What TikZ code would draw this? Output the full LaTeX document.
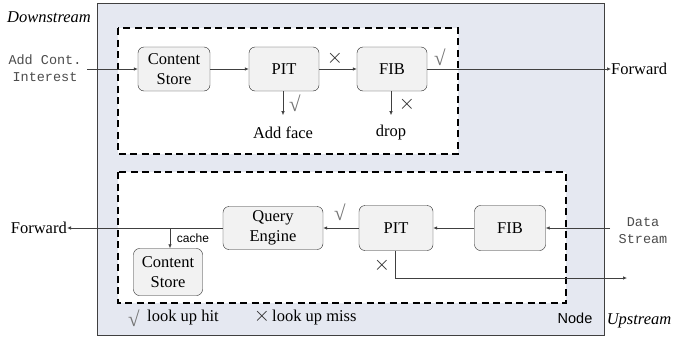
\documentclass[tikz,border=0pt]{standalone}
\usepackage{fontspec}
\setmainfont{Liberation Serif}
\setsansfont{Liberation Sans}
\setmonofont{Liberation Mono}
\usetikzlibrary{arrows.meta}
\definecolor{nodebg}{HTML}{E5E8F1}
\definecolor{boxbg}{HTML}{F2F2F2}
\definecolor{linec}{HTML}{404040}
\begin{document}
\begin{tikzpicture}[x=1pt,y=-1pt,
  box/.style={draw=black!85,fill=boxbg,rounded corners=6pt,align=center,inner sep=0pt,
    font=\fontsize{16.5}{20}\selectfont},
  lbl/.style={inner sep=0pt,font=\fontsize{16.5}{20}\selectfont},
  mono/.style={inner sep=0pt,align=center,text=black!70,font=\fontsize{13.5}{17}\selectfont\ttfamily},
  conn/.style={draw=linec,line width=0.7pt,-{Latex[length=4pt,width=3.5pt]}},
  dashbox/.style={draw=black,line width=1.6pt,dash pattern=on 7pt off 4.5pt,fill=white},
  ok/.style={inner sep=0pt,text=black!55,font=\fontsize{21}{20}\selectfont},
  no/.style={inner sep=0pt,text=black!85,font=\fontsize{22}{20}\selectfont}]
\useasboundingbox (0,0) rectangle (674,343);
% outer node area
\draw[draw=black!75,fill=nodebg,line width=0.8pt] (97,3) rectangle (604,335);
\draw[dashbox] (118,28) rectangle (458,154);
\draw[dashbox] (118,172) rectangle (566,303);

% top row
\node[box,minimum width=72pt,minimum height=44pt] (cs1) at (174,69) {Content\\Store};
\node[box,minimum width=70pt,minimum height=44pt] (pit1) at (284,69) {PIT};
\node[box,minimum width=70pt,minimum height=44pt] (fib1) at (392,69) {FIB};
\node[mono] (in1) at (45,68) {Add Cont.\\Interest};
\coordinate (in1e) at (87,69);
\node[lbl,anchor=west] (fwd1) at (611,69) {Forward};
\node[lbl] (addface) at (283,133) {Add face};
\node[lbl] (drop) at (391,133) {drop};
\coordinate (pit1d) at (pit1.south -| addface.north);
\coordinate (fib1d) at (fib1.south -| drop.north);
\draw[conn] (in1e) -- (cs1.west);
\draw[conn] (cs1.east) -- (pit1.west);
\draw[conn] (pit1.east) -- (fib1.west);
\draw[conn] (fib1.east) -- (fwd1.west);
\draw[conn] (pit1d) -- ++(0,24);
\draw[conn] (fib1d) -- ++(0,24);
\node[ok] (c1) at (295,103) {√};
\node[no] (x1) at (407,104) {$\times$};
\node[no] (x2) at (335,58) {$\times$};
\node[ok] (c2) at (440,57) {√};

% bottom row
\node[box,minimum width=100pt,minimum height=43pt] (qe) at (273,228) {Query\\Engine};
\node[box,minimum width=69pt,minimum height=47pt] (cs2) at (168,272) {Content\\Store};
\node[box,minimum width=74pt,minimum height=45pt] (pit2) at (396,228) {PIT};
\node[box,minimum width=71pt,minimum height=45pt] (fib2) at (510,228) {FIB};
\node[mono] (ds) at (643,231) {Data\\Stream};
\coordinate (dsw) at (610,228);
\node[lbl,anchor=east] (fwd2) at (67,228) {Forward};
\draw[conn] (dsw) -- (fib2.east);
\draw[conn] (fib2.west) -- (pit2.east);
\draw[conn] (pit2.west) -- (qe.east);
\draw[conn] (qe.west) -- (fwd2.east);
\draw[conn] (170,228) -- (cs2.north -| 170,0);
\node[inner sep=0pt,font=\fontsize{12}{14}\selectfont\sffamily] (cache) at (193,238) {cache};
\node[ok] (c3) at (340,212) {√};
\node[no] (x3) at (382,265) {$\times$};
\coordinate (up) at (627,278);
\draw[conn] (pit2.south -| 395,0) |- (up);

% legend
\node[ok] (lc) at (134,318) {√};
\node[lbl,anchor=west] (lhit) at (147,318) {look up hit};
\node[no] (lx) at (262,316) {$\times$};
\node[lbl,anchor=west] (lmiss) at (272,318) {look up miss};
\node[inner sep=0pt,font=\fontsize{14.5}{17}\selectfont\sffamily] (nd) at (575,318) {Node};
\node[lbl,font=\fontsize{16.5}{20}\selectfont\itshape] (up2) at (639,321) {Upstream};
\node[lbl,font=\fontsize{16.5}{20}\selectfont\itshape] (down) at (49,17) {Downstream};
\end{tikzpicture}
\end{document}
